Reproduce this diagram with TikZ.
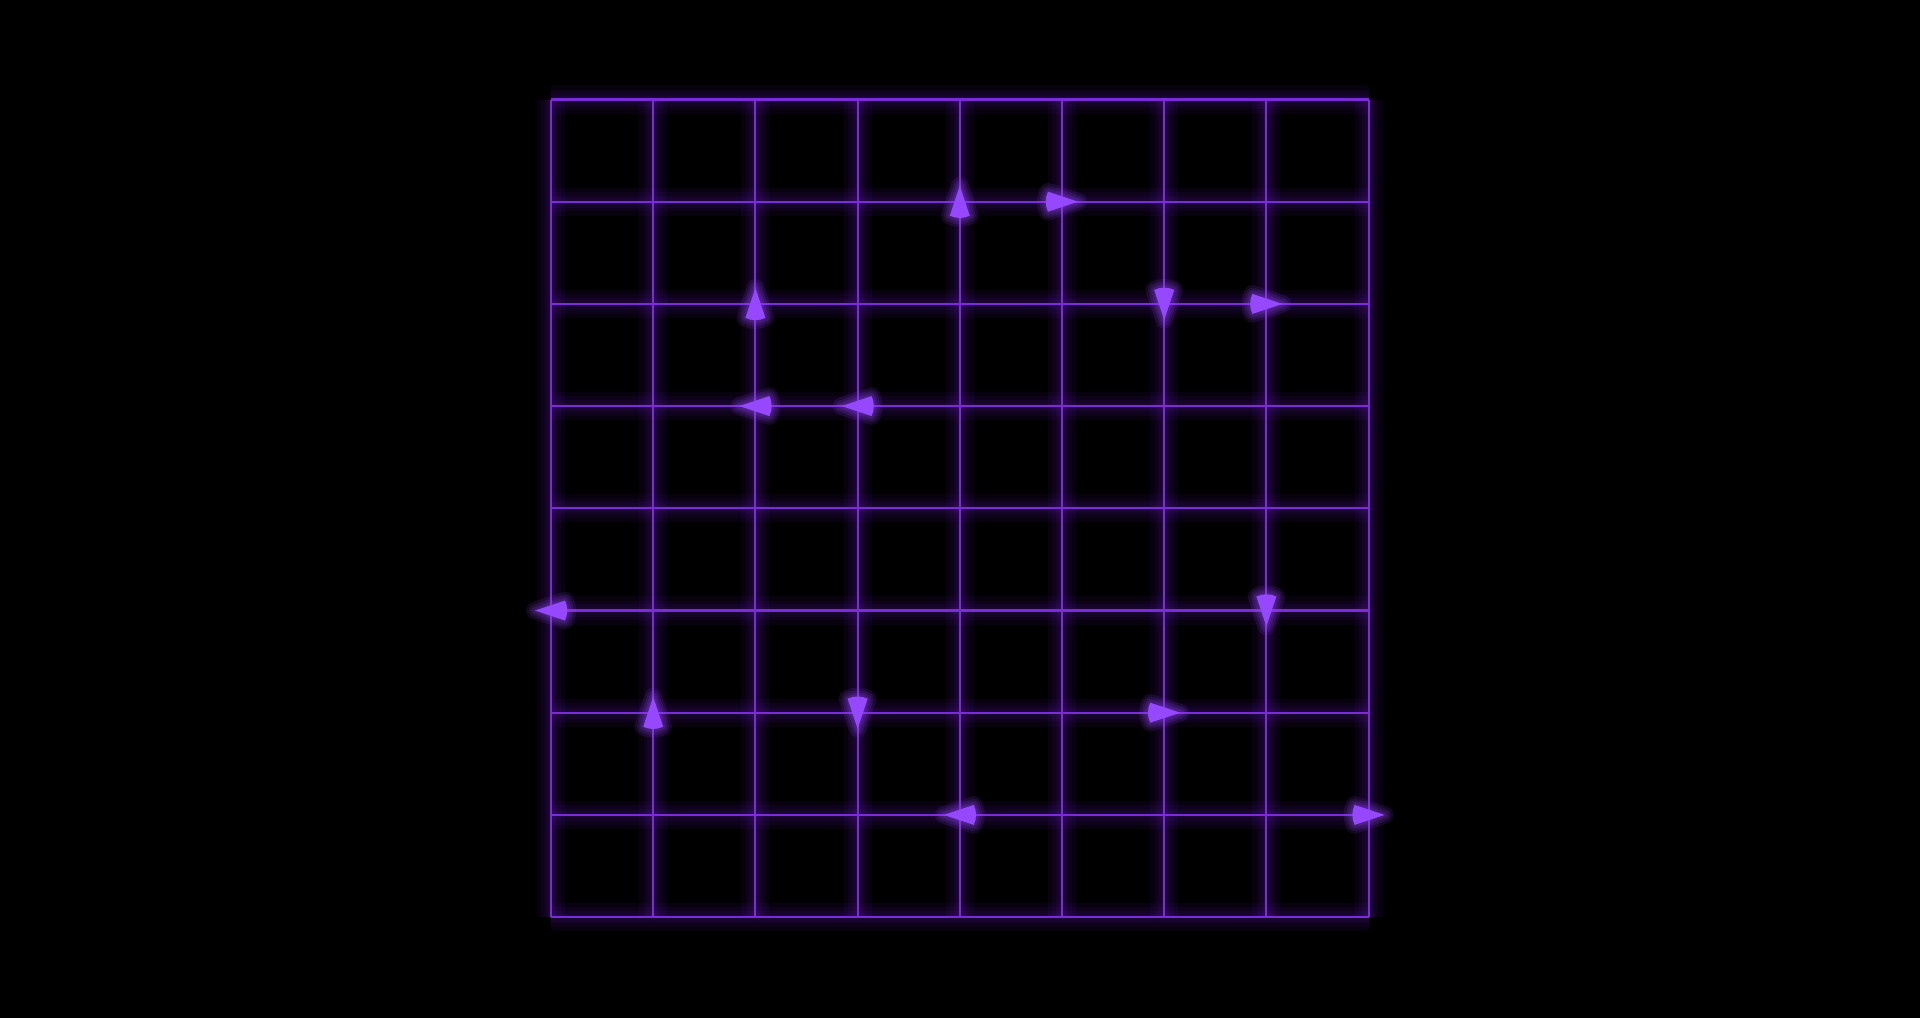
\documentclass[tikz,border=0pt]{standalone}
\definecolor{gridc}{RGB}{122,44,214}
\definecolor{arrc}{RGB}{150,72,255}
\definecolor{glowc}{RGB}{110,30,200}
\tikzset{
  gridline/.style={gridc, line width=0.6pt},
  glowline/.style={glowc, line width=#1, opacity=0.07},
  ahead/.pic={
    \foreach \w in {5pt,3.5pt,2.2pt,1.2pt}
      \draw[arrc, opacity=0.12, line width=\w, line join=round]
        (16,0) -- (-14,10) .. controls (-17,4) and (-17,-4) .. (-14,-10) -- cycle;
    \fill[arrc] (16,0) -- (-14,10) .. controls (-17,4) and (-17,-4) .. (-14,-10) -- cycle;
  }
}
\begin{document}
\begin{tikzpicture}[x=0.01cm,y=-0.01cm]
\useasboundingbox (0,0) rectangle (1920,1017);
\fill[black,overlay] (-20,-20) rectangle (1940,1037);
\foreach \i in {0,...,8}
  \foreach \j in {0,...,8}
    \coordinate (p\i\j) at ({551+102.2*\i},{99.5+102.2*\j});
% glow
\foreach \w in {8pt,5.5pt,3.5pt,2pt}{
  \foreach \k in {0,...,8}{
    \draw[glowline=\w] (p\k0) -- (p\k8);
    \draw[glowline=\w] (p0\k) -- (p8\k);
  }
}
% grid
\foreach \k in {0,...,8}{
  \draw[gridline] (p\k0) -- (p\k8);
  \draw[gridline] (p0\k) -- (p8\k);
}
% arrowheads
\foreach \i/\j/\a in {4/1/90, 5/1/0, 2/2/90, 6/2/-90, 7/2/0, 2/3/180, 3/3/180,
  0/5/180, 7/5/-90, 1/6/90, 3/6/-90, 6/6/0, 4/7/180, 8/7/0}
  \pic[rotate=\a] at (p\i\j) {ahead};
\end{tikzpicture}
\end{document}
